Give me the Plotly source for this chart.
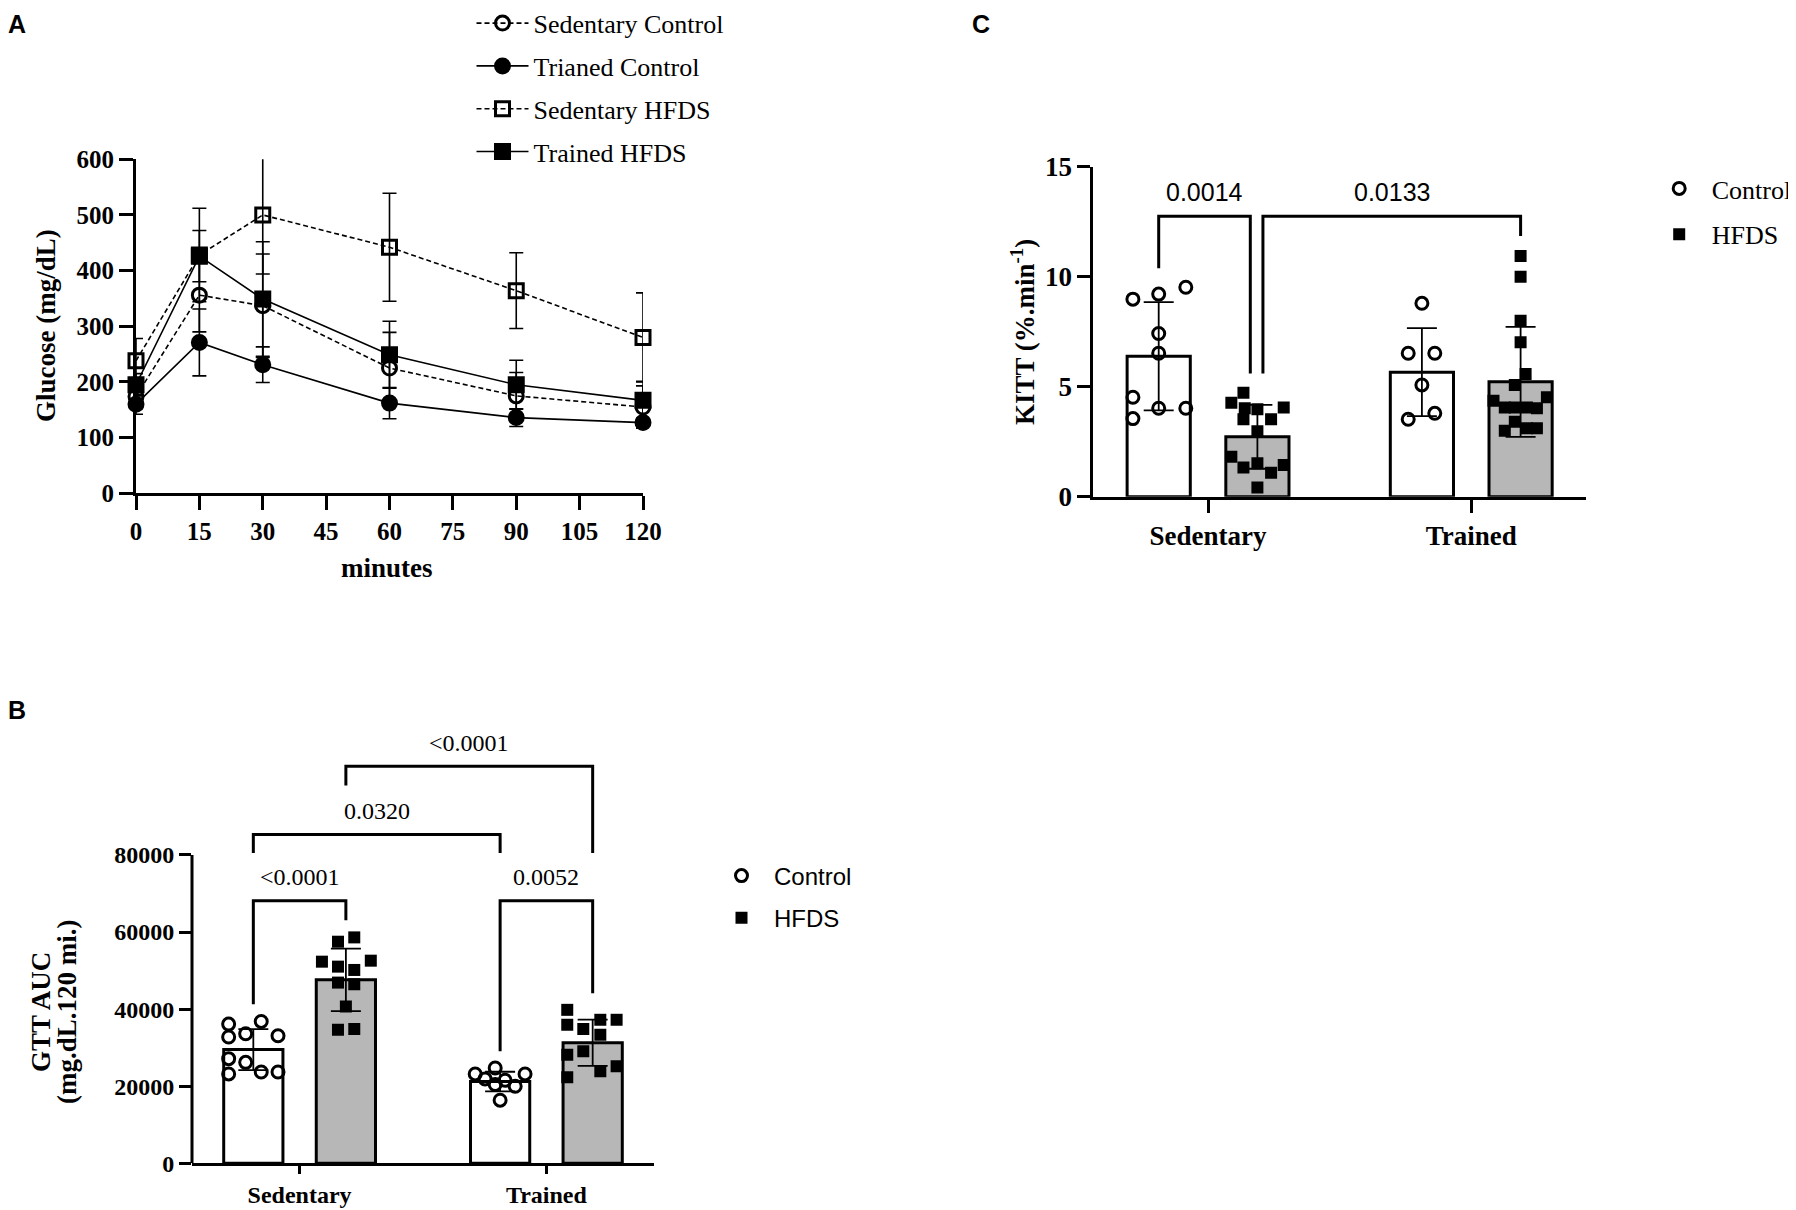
import plotly.graph_objects as go

SERIF = "Times New Roman, Liberation Serif, serif"
SANS = "Arial, Liberation Sans, sans-serif"

# ---------- Panel A: GTT time course (mean, SD) ----------
minutes = [0, 15, 30, 60, 90, 120]
sed_ctrl_glu = [174, 356, 337, 225, 175, 155]
sed_ctrl_sd = [22, 66, 93, 64, 42, 38]
trn_ctrl_glu = [160, 271, 231, 162, 136, 127]
trn_ctrl_sd = [18, 60, 32, 28, 16, 8]
sed_hfds_glu = [238, 428, 500, 442, 364, 280]
sed_hfds_sd = [40, 84, 106, 97, 68, 80]
trn_hfds_glu = [195, 426, 349, 249, 195, 167]
trn_hfds_sd = [20, 46, 103, 60, 44, 34]

# ---------- Panel B: GTT AUC ----------
groups = ["Sedentary", "Trained"]
auc_ctrl_mean = [29500, 21200]
auc_ctrl_sd = [5300, 2550]
auc_hfds_mean = [47600, 31300]
auc_hfds_sd = [8100, 6000]
auc_sed_ctrl = [36120, 36810, 33620, 32760, 33100, 27150, 26200, 23190, 23700, 23700]
auc_trn_ctrl = [23190, 24740, 23190, 21900, 21550, 20430, 20000, 16380]
auc_sed_hfds = [57500, 58620, 52320, 52580, 51030, 50170, 46890, 46460, 40690, 34650, 34820]
auc_trn_hfds = [39820, 35950, 34830, 37240, 37240, 33360, 29050, 28190, 25170, 23880, 22330]
auc_pvals = ["<0.0001", "0.0052", "0.0320", "<0.0001"]

# ---------- Panel C: KITT ----------
kitt_ctrl_mean = [6.38, 5.66]
kitt_ctrl_sd = [2.46, 2.0]
kitt_hfds_mean = [2.72, 5.22]
kitt_hfds_sd = [1.45, 2.5]
kitt_sed_ctrl = [8.98, 9.21, 9.52, 7.42, 6.52, 4.52, 3.55, 4.02, 4.02]
kitt_trn_ctrl = [8.79, 6.52, 6.52, 5.08, 3.52, 3.79]
kitt_sed_hfds = [4.73, 4.27, 4.02, 3.97, 4.05, 3.52, 3.52, 2.98, 1.82, 1.33, 1.52, 1.09, 1.44, 0.42]
kitt_trn_hfds = [10.94, 10.0, 8.0, 7.02, 5.58, 5.08, 4.36, 4.52, 4.06, 4.06, 4.06, 4.02, 3.41, 3.0, 3.11, 3.11]
kitt_pvals = ["0.0014", "0.0133"]

# horizontal scatter of the dots inside each bar (category units)
jit_b = {
    "sc": [-0.100, 0.032, -0.031, -0.100, 0.100, -0.100, -0.031, -0.100, 0.032, 0.100],
    "tc": [-0.101, -0.020, 0.101, -0.061, 0.020, -0.020, 0.061, 0.0],
    "sh": [-0.032, 0.034, -0.097, 0.101, -0.032, 0.034, -0.032, 0.034, 0.0, -0.032, 0.034],
    "th": [-0.103, -0.103, -0.038, 0.031, 0.097, 0.031, -0.038, -0.103, 0.097, 0.031, -0.103],
}
jit_c = {
    "sc": [-0.098, 0.0, 0.103, 0.0, 0.0, -0.098, -0.098, 0.0, 0.103],
    "tc": [0.0, -0.052, 0.049, 0.0, -0.052, 0.049],
    "sh": [-0.053, -0.099, -0.048, 0.0, 0.100, -0.053, 0.052, 0.0, -0.099, -0.053, 0.0, 0.052, 0.100, 0.0],
    "th": [0.0, 0.0, 0.0, 0.0, 0.019, -0.022, -0.103, 0.100, -0.060, -0.022, 0.024, 0.062, -0.022, -0.060, 0.024, 0.062],
}

OFF = 0.1875
BW = 0.24
# the page body keeps an 8px margin: the figure starts at (8, 8) in the window
PAD = 8
W, H = 1796 - PAD, 1210 - PAD


def px_x(p):
    return (p - PAD) / W


def px_y(p):
    return 1 - (p - PAD) / H


fig = go.Figure()

# ---- A ----
a_series = [
    ("Sedentary Control", sed_ctrl_glu, sed_ctrl_sd, "circle-open", "5px,3px"),
    ("Trianed Control", trn_ctrl_glu, trn_ctrl_sd, "circle", "solid"),
    ("Sedentary HFDS", sed_hfds_glu, sed_hfds_sd, "square-open", "5px,3px"),
    ("Trained HFDS", trn_hfds_glu, trn_hfds_sd, "square", "solid"),
]
for i, (name, y, sd, sym, dash) in enumerate(a_series):
    fig.add_trace(go.Scatter(
        x=minutes, y=y, name=name, mode="lines+markers",
        line=dict(color="black", width=1.6, dash=dash),
        marker=dict(symbol=sym, size=14, color="black", line=dict(color="black", width=3)),
        error_y=dict(type="data", array=sd, color="black", thickness=1.6, width=7),
        cliponaxis=False, legendgroup="a%d" % i, legend="legend",
        xaxis="x", yaxis="y"))


def bar_panel(xa, ya, leg, c_mean, c_sd, h_mean, h_sd, c_pts, h_pts, jit, msize):
    fig.add_trace(go.Bar(
        x=[0 - OFF, 1 - OFF], y=c_mean, width=BW, showlegend=False,
        marker=dict(color="white", line=dict(color="black", width=3)),
        error_y=dict(type="data", array=c_sd, color="black", thickness=1.8, width=15),
        xaxis=xa, yaxis=ya))
    fig.add_trace(go.Bar(
        x=[0 + OFF, 1 + OFF], y=h_mean, width=BW, showlegend=False,
        marker=dict(color="#b7b7b7", line=dict(color="black", width=3)),
        error_y=dict(type="data", array=h_sd, color="black", thickness=1.8, width=15),
        xaxis=xa, yaxis=ya))
    cx = [0 - OFF + j for j in jit["sc"]] + [1 - OFF + j for j in jit["tc"]]
    hx = [0 + OFF + j for j in jit["sh"]] + [1 + OFF + j for j in jit["th"]]
    fig.add_trace(go.Scatter(
        x=cx, y=c_pts[0] + c_pts[1], mode="markers", name="Control",
        marker=dict(symbol="circle-open", size=msize, color="black", line=dict(width=3)),
        legend=leg, legendgroup=leg + "c", xaxis=xa, yaxis=ya))
    fig.add_trace(go.Scatter(
        x=hx, y=h_pts[0] + h_pts[1], mode="markers", name="HFDS",
        marker=dict(symbol="square", size=msize, color="black"),
        legend=leg, legendgroup=leg + "h", xaxis=xa, yaxis=ya))


bar_panel("x2", "y2", "legend2", auc_ctrl_mean, auc_ctrl_sd, auc_hfds_mean, auc_hfds_sd,
          [auc_sed_ctrl, auc_trn_ctrl], [auc_sed_hfds, auc_trn_hfds], jit_b, 12)
bar_panel("x3", "y3", "legend3", kitt_ctrl_mean, kitt_ctrl_sd, kitt_hfds_mean, kitt_hfds_sd,
          [kitt_sed_ctrl, kitt_trn_ctrl], [kitt_sed_hfds, kitt_trn_hfds], jit_c, 12)

shapes = []
annotations = []


def bracket(xa, ya, x0, x1, y, yl, yr, text, ty, font):
    shapes.append(dict(type="path", xref=xa, yref=ya,
                       path="M %f,%f L %f,%f L %f,%f L %f,%f" % (x0, yl, x0, y, x1, y, x1, yr),
                       line=dict(color="black", width=3)))
    annotations.append(dict(xref=xa, yref=ya, x=(x0 + x1) / 2, y=ty, text=text,
                            showarrow=False, font=font, xanchor="center", yanchor="middle"))


fb = dict(family=SERIF, size=24, color="black")
bracket("x2", "y2", -OFF, OFF, 68100, 41300, 63100, auc_pvals[0], 74400, fb)
bracket("x2", "y2", 1 - OFF, 1 + OFF, 68100, 29050, 44130, auc_pvals[1], 74400, fb)
bracket("x2", "y2", -OFF, 1 - OFF, 85340, 80530, 80530, auc_pvals[2], 91470, fb)
bracket("x2", "y2", OFF, 1 + OFF, 103020, 98030, 80530, auc_pvals[3], 109150, fb)

fc = dict(family=SANS, size=25, color="black")
bracket("x3", "y3", -OFF, OFF - 0.027, 12.75, 10.38, 5.6, kitt_pvals[0], 13.85, fc)
bracket("x3", "y3", OFF + 0.021, 1 + OFF, 12.75, 5.6, 11.85, kitt_pvals[1], 13.85, fc)

# B y axis line only up to 80000
shapes.append(dict(type="line", xref="x2 domain", yref="y2", x0=0, x1=0, y0=0, y1=80000,
                   line=dict(color="black", width=3)))

title_font = dict(family=SERIF, size=27, color="black", weight="bold")
letter_font = dict(family=SANS, size=25, color="black", weight="bold")


def label(x, y, text, font, angle=0):
    annotations.append(dict(xref="paper", yref="paper", x=px_x(x), y=px_y(y), text=text,
                            textangle=angle, showarrow=False, font=font,
                            xanchor="center", yanchor="middle"))


label(46, 326, "Glucose (mg/dL)", title_font, -90)
label(387, 568, "minutes", title_font)
label(41, 1012, "GTT AUC", title_font, -90)
label(67, 1012, "(mg.dL.120 mi.)", title_font, -90)
label(1023, 332, "KITT (%.min<sup>-1</sup>)", title_font, -90)
label(17, 24, "A", letter_font)
label(17, 710, "B", letter_font)
label(981, 24, "C", letter_font)


def tfont(size):
    return dict(family=SERIF, size=size, color="black", weight="bold")


axis_common = dict(showgrid=False, zeroline=False, ticks="outside", tickwidth=3,
                   tickcolor="black", linecolor="black", linewidth=3, automargin=False)

fig.update_layout(
    width=W, height=H, margin=dict(l=0, r=0, t=0, b=0, autoexpand=False),
    paper_bgcolor="white", plot_bgcolor="white", barmode="overlay",
    xaxis=dict(axis_common, domain=[px_x(136), px_x(643)], range=[0, 120],
               tickvals=minutes + [45, 75, 105], showline=True, ticklen=14,
               tickfont=tfont(25), anchor="y", layer="below traces"),
    yaxis=dict(axis_common, domain=[px_y(493.3), px_y(159.3)], range=[0, 600],
               tickvals=[0, 100, 200, 300, 400, 500, 600], showline=True, ticklen=14,
               tickfont=tfont(25), anchor="x", layer="below traces"),
    xaxis2=dict(axis_common, domain=[px_x(192), px_x(654)], range=[-0.436, 1.436],
                tickvals=[0, 1], ticktext=groups, showline=True, ticklen=8,
                tickfont=tfont(24), anchor="y2"),
    yaxis2=dict(axis_common, domain=[px_y(1163.3), px_y(1163.3 - 115000 * 308.3 / 80000)],
                range=[0, 115000], tickvals=[0, 20000, 40000, 60000, 80000],
                tickformat="d", showline=False, ticklen=12, tickfont=tfont(24), anchor="x2"),
    xaxis3=dict(axis_common, domain=[px_x(1093.3), px_x(1586)], range=[-0.436, 1.436],
                tickvals=[0, 1], ticktext=groups, showline=True, ticklen=13,
                tickfont=tfont(27), anchor="y3"),
    yaxis3=dict(axis_common, domain=[px_y(496.7), px_y(166.7)], range=[0, 15],
                tickvals=[0, 5, 10, 15], showline=True, ticklen=13,
                tickfont=tfont(27), anchor="x3"),
    legend=dict(x=px_x(471.5), y=px_y(-0.3), xanchor="left", yanchor="top",
                font=dict(family=SERIF, size=26, color="black"), itemwidth=52,
                tracegroupgap=6, bgcolor="rgba(0,0,0,0)"),
    legend2=dict(x=px_x(709), y=px_y(853.5), xanchor="left", yanchor="top",
                 font=dict(family=SANS, size=24, color="black"), itemwidth=55,
                 tracegroupgap=8, bgcolor="rgba(0,0,0,0)"),
    legend3=dict(x=px_x(1646.7), y=px_y(165), xanchor="left", yanchor="top",
                 font=dict(family=SERIF, size=26, color="black"), itemwidth=55,
                 tracegroupgap=9, bgcolor="rgba(0,0,0,0)"),
    shapes=shapes, annotations=annotations,
)

fig.write_html("out.html")
